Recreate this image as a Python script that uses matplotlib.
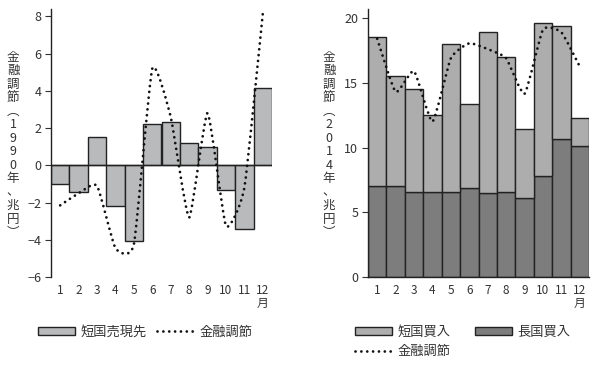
import matplotlib
matplotlib.use("Agg")
import matplotlib.pyplot as plt
from matplotlib.path import Path
from matplotlib.patches import PathPatch, Patch
from matplotlib.lines import Line2D

plt.rcParams['font.family'] = ['Noto Sans CJK JP', 'DejaVu Sans']

# --- data ---
months = list(range(1, 13))
month_labels = ['1', '2', '3', '4', '5', '6', '7', '8', '9', '10', '11', '12\n月']

# 1990: short-term govt bond sell repos (bars) and net money-market operations (dotted)
sell_repo_1990 = [-1.0, -1.45, 1.5, -2.2, -4.05, 2.2, 2.35, 1.2, 1.0, -1.3, -3.4, 4.15]
ops_1990 = [-2.15, -1.5, -1.1, -4.45, -4.25, 5.2, 2.6, -2.8, 2.8, -3.25, -1.2, 8.15]

# 2014: outright purchases, long bonds stacked under short bills
buy_long_2014 = [7.05, 7.05, 6.6, 6.55, 6.6, 6.85, 6.45, 6.55, 6.1, 7.8, 10.65, 10.1]
buy_total_2014 = [18.5, 15.5, 14.55, 12.5, 18.0, 13.4, 18.9, 17.0, 11.4, 19.6, 19.35, 12.3]
buy_short_2014 = [t - l for t, l in zip(buy_total_2014, buy_long_2014)]
ops_2014 = [18.4, 14.3, 15.9, 12.0, 16.9, 18.05, 17.6, 16.9, 14.15, 19.1, 18.9, 16.25]

ylabel_1990 = '金融調節︵1990年、兆円︶'
ylabel_2014 = '金融調節︵2014年、兆円︶'

TEXT = '#333333'
EDGE = '#222222'
LIGHT_1990 = '#b9babc'
LIGHT_2014 = '#adadad'
DARK_2014 = '#7d7d7d'
DOTS = dict(linestyle=(0, (0.01, 2.1)), linewidth=2.0)
TENSION = 1 / 12.0


def smooth_curve(xs, ys):
    # bezier through the monthly points (like a "smoothed line" in a spreadsheet)
    n = len(xs)
    verts = [(xs[0], ys[0])]
    codes = [Path.MOVETO]
    for i in range(n - 1):
        xa, ya = (xs[i - 1], ys[i - 1]) if i > 0 else (xs[i], ys[i])
        xb, yb = xs[i], ys[i]
        xc, yc = xs[i + 1], ys[i + 1]
        xd, yd = (xs[i + 2], ys[i + 2]) if i + 2 < n else (xc, yc)
        c1 = (xb + (xc - xa) * TENSION, yb + (yc - ya) * TENSION)
        c2 = (xc - (xd - xb) * TENSION, yc - (yd - yb) * TENSION)
        verts += [c1, c2, (xc, yc)]
        codes += [Path.CURVE4] * 3
    patch = PathPatch(Path(verts, codes), fill=False, edgecolor='#111111', zorder=5, **DOTS)
    patch.set_capstyle('round')
    return patch


fig = plt.figure(figsize=(6.0, 3.66), dpi=100)
ax1 = fig.add_axes([51 / 600, 1 - 277 / 366, 221 / 600, 268 / 366])
ax2 = fig.add_axes([368 / 600, 1 - 277 / 366, 221 / 600, 268 / 366])

# left panel: 1990
ax1.bar(months, sell_repo_1990, width=1.0, color=LIGHT_1990, edgecolor=EDGE, linewidth=1.0, zorder=2)
ax1.axhline(0, color=EDGE, linewidth=1.0, zorder=3)
ax1.add_patch(smooth_curve(months, ops_1990))
ax1.set_xlim(0.5, 12.5)
ax1.set_ylim(-6, 8.4)
ax1.set_yticks(range(-6, 9, 2))
ax1.spines['bottom'].set_visible(False)

# right panel: 2014
ax2.bar(months, buy_long_2014, width=1.0, color=DARK_2014, edgecolor=EDGE, linewidth=1.0, zorder=2)
ax2.bar(months, buy_short_2014, bottom=buy_long_2014, width=1.0, color=LIGHT_2014,
        edgecolor=EDGE, linewidth=1.0, zorder=2)
ax2.add_patch(smooth_curve(months, ops_2014))
ax2.set_xlim(0.5, 12.5)
ax2.set_ylim(0, 20.7)
ax2.set_yticks(range(0, 21, 5))

for ax in (ax1, ax2):
    ax.set_xticks(months)
    ax.set_xticklabels(month_labels, linespacing=0.95)
    for s in ('top', 'right'):
        ax.spines[s].set_visible(False)
    for s in ('left', 'bottom'):
        ax.spines[s].set_color(EDGE)
        ax.spines[s].set_linewidth(1.0)
    ax.tick_params(axis='y', direction='out', length=4, width=0.8, colors=TEXT, labelsize=9, pad=3)
    ax.tick_params(axis='x', length=0, colors=TEXT, labelsize=8.5, pad=5)
    for lab in ax.get_xticklabels():
        lab.set_verticalalignment('top')

# vertical y labels
fig.text(13 / 600, 1 - 145 / 366, '\n'.join(ylabel_1990), ha='center', va='center',
         fontsize=9, color=TEXT, linespacing=1.05)
fig.text(329 / 600, 1 - 145 / 366, '\n'.join(ylabel_2014), ha='center', va='center',
         fontsize=9, color=TEXT, linespacing=1.05)

# legends
dot_handle = Line2D([], [], color='#111111', dash_capstyle='round', **DOTS)
leg_kw = dict(frameon=False, fontsize=9.5, handlelength=2.8, handleheight=0.6,
              handletextpad=0.4, borderpad=0, borderaxespad=0, labelcolor=TEXT)

fig.legend([Patch(facecolor=LIGHT_1990, edgecolor=EDGE, linewidth=1.0), dot_handle],
           ['短国売現先', '金融調節'], loc='center left', ncol=2, columnspacing=0.8,
           bbox_to_anchor=(38 / 600, 1 - 332 / 366), **leg_kw)

fig.legend([Patch(facecolor=LIGHT_2014, edgecolor=EDGE, linewidth=1.0), dot_handle,
            Patch(facecolor=DARK_2014, edgecolor=EDGE, linewidth=1.0)],
           ['短国買入', '金融調節', '長国買入'], loc='center left', ncol=2, columnspacing=1.9,
           labelspacing=0.5, bbox_to_anchor=(355 / 600, 1 - 342 / 366), **leg_kw)

fig.savefig('out.png', dpi=100)
